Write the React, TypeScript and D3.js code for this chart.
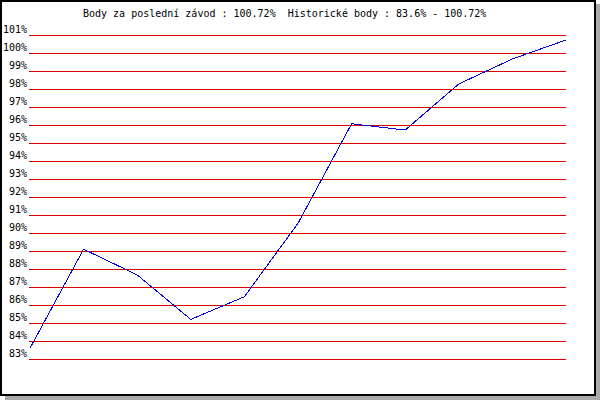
import React from "react";
import * as d3 from "d3";

const titleText = "Body za poslední závod : 100.72%  Historické body : 83.6% - 100.72%";
const races = [1, 2, 3, 4, 5, 6, 7, 8, 9, 10, 11];
const points = [83.6, 89.1, 87.67, 85.2, 86.46, 90.54, 96.07, 95.72, 98.28, 99.67, 100.72];
const tickValues = [83, 84, 85, 86, 87, 88, 89, 90, 91, 92, 93, 94, 95, 96, 97, 98, 99, 100, 101];

export default function App() {
  const W = 600;
  const H = 400;
  const x = d3.scaleLinear().domain([races[0], races[races.length - 1]]).range([30, 566]);
  const y = d3.scaleLinear().domain([83, 101]).range([359, 35]);
  const line = d3
    .line<number>()
    .x((_, i) => x(races[i]))
    .y((d) => y(d));
  const font = "'DejaVu Sans Mono', monospace";
  return (
    <svg
      width={W}
      height={H}
      style={{ position: "absolute", left: 0, top: 0, background: "#fff" }}
    >
      <rect x={5} y={4} width={595} height={396} fill="#aaaaaa" />
      <rect x={1} y={1} width={594} height={394} fill="#fff" stroke="#000" strokeWidth={2} />
      <text
        x={83}
        y={17}
        fontFamily={font}
        fontSize={10}
        fill="#000"
        xmlSpace="preserve"
        style={{ whiteSpace: "pre" }}
      >
        {titleText}
      </text>
      {tickValues.map((t) => (
        <g key={t}>
          <line
            x1={29}
            x2={566}
            y1={Math.round(y(t)) + 0.5}
            y2={Math.round(y(t)) + 0.5}
            stroke="#dd0000"
            strokeWidth={1}
            shapeRendering="crispEdges"
          />
          <text
            x={27}
            y={Math.round(y(t)) - 2}
            textAnchor="end"
            fontFamily={font}
            fontSize={10}
            fill="#000"
          >
            {t}%
          </text>
        </g>
      ))}
      <path
        d={line(points) || ""}
        fill="none"
        stroke="#0000dd"
        strokeWidth={1}
        shapeRendering="crispEdges"
      />
    </svg>
  );
}
